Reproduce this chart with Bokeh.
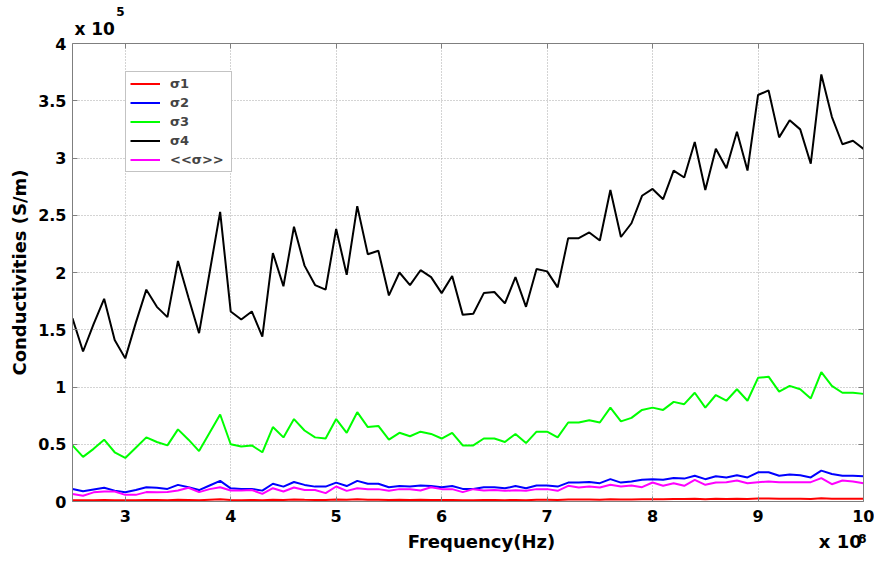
from bokeh.plotting import figure
from bokeh.models import (LinearAxis, FixedTicker, NumeralTickFormatter, Legend,
                          LegendItem, Range1d, CustomJSTickFormatter)
from bokeh.embed import file_html
from bokeh.resources import INLINE

# Frequency in units of 1e8 Hz
freq_e8 = [2.5, 2.6, 2.7, 2.8, 2.9, 3.0, 3.1, 3.2, 3.3, 3.4, 3.5, 3.6, 3.7, 3.8, 3.9,
           4.0, 4.1, 4.2, 4.3, 4.4, 4.5, 4.6, 4.7, 4.8, 4.9,
           5.0, 5.1, 5.2, 5.3, 5.4, 5.5, 5.6, 5.7, 5.8, 5.9,
           6.0, 6.1, 6.2, 6.3, 6.4, 6.5, 6.6, 6.7, 6.8, 6.9,
           7.0, 7.1, 7.2, 7.3, 7.4, 7.5, 7.6, 7.7, 7.8, 7.9,
           8.0, 8.1, 8.2, 8.3, 8.4, 8.5, 8.6, 8.7, 8.8, 8.9,
           9.0, 9.1, 9.2, 9.3, 9.4, 9.5, 9.6, 9.7, 9.8, 9.9, 10.0]

# Conductivities in units of 1e5 S/m
sigma1 = [0.012, 0.010, 0.012, 0.014, 0.011, 0.010, 0.012, 0.014, 0.013, 0.012, 0.015, 0.013, 0.011, 0.015, 0.019,
          0.013, 0.012, 0.013, 0.011, 0.016, 0.014, 0.018, 0.015, 0.014, 0.014,
          0.018, 0.015, 0.019, 0.016, 0.016, 0.013, 0.015, 0.014, 0.015, 0.014,
          0.013, 0.014, 0.012, 0.012, 0.013, 0.013, 0.012, 0.014, 0.012, 0.015,
          0.015, 0.014, 0.017, 0.017, 0.017, 0.016, 0.020, 0.017, 0.018, 0.020,
          0.020, 0.019, 0.021, 0.021, 0.023, 0.020, 0.023, 0.021, 0.024, 0.021,
          0.026, 0.027, 0.024, 0.025, 0.024, 0.022, 0.028, 0.025, 0.023, 0.023, 0.023]

sigma2 = [0.11, 0.09, 0.105, 0.12, 0.095, 0.08, 0.10, 0.125, 0.12, 0.11, 0.145, 0.125, 0.10, 0.14, 0.18,
          0.115, 0.11, 0.11, 0.095, 0.155, 0.13, 0.17, 0.145, 0.13, 0.13,
          0.165, 0.135, 0.18, 0.155, 0.155, 0.125, 0.135, 0.13, 0.14, 0.135,
          0.125, 0.135, 0.11, 0.11, 0.125, 0.125, 0.115, 0.135, 0.115, 0.14,
          0.14, 0.13, 0.165, 0.165, 0.17, 0.16, 0.195, 0.165, 0.175, 0.19,
          0.195, 0.19, 0.205, 0.20, 0.225, 0.195, 0.22, 0.21, 0.23, 0.21,
          0.255, 0.255, 0.225, 0.235, 0.23, 0.21, 0.27, 0.24, 0.225, 0.225, 0.22]

sigma3 = [0.49, 0.39, 0.46, 0.54, 0.43, 0.38, 0.47, 0.56, 0.52, 0.49, 0.63, 0.54, 0.44, 0.60, 0.76,
          0.50, 0.48, 0.49, 0.43, 0.65, 0.56, 0.72, 0.62, 0.56, 0.55,
          0.72, 0.60, 0.78, 0.65, 0.66, 0.54, 0.60, 0.57, 0.61, 0.59,
          0.55, 0.60, 0.49, 0.49, 0.55, 0.55, 0.52, 0.59, 0.51, 0.61,
          0.61, 0.56, 0.69, 0.69, 0.71, 0.69, 0.82, 0.70, 0.73, 0.80,
          0.82, 0.80, 0.87, 0.85, 0.95, 0.82, 0.93, 0.88, 0.98, 0.88,
          1.08, 1.09, 0.96, 1.01, 0.98, 0.90, 1.13, 1.01, 0.95, 0.95, 0.94]

sigma4 = [1.60, 1.31, 1.55, 1.77, 1.41, 1.25, 1.56, 1.85, 1.70, 1.61, 2.10, 1.78, 1.47, 2.00, 2.53,
          1.66, 1.59, 1.66, 1.44, 2.17, 1.88, 2.40, 2.06, 1.89, 1.85,
          2.38, 1.98, 2.58, 2.16, 2.19, 1.80, 2.00, 1.89, 2.02, 1.96,
          1.82, 1.97, 1.63, 1.64, 1.82, 1.83, 1.73, 1.96, 1.70, 2.03,
          2.01, 1.87, 2.30, 2.30, 2.35, 2.28, 2.72, 2.31, 2.43, 2.67,
          2.73, 2.64, 2.89, 2.83, 3.14, 2.72, 3.08, 2.91, 3.23, 2.89,
          3.55, 3.59, 3.18, 3.33, 3.25, 2.95, 3.73, 3.36, 3.12, 3.15, 3.08]

sigma_mean = [0.065, 0.05, 0.08, 0.087, 0.087, 0.058, 0.058, 0.082, 0.08, 0.082, 0.096, 0.12, 0.082, 0.108, 0.125,
              0.096, 0.096, 0.10, 0.067, 0.116, 0.087, 0.122, 0.10, 0.10, 0.073,
              0.131, 0.093, 0.116, 0.108, 0.108, 0.093, 0.108, 0.108, 0.096, 0.125,
              0.108, 0.108, 0.082, 0.108, 0.096, 0.10, 0.093, 0.099, 0.093, 0.108,
              0.108, 0.093, 0.137, 0.122, 0.131, 0.122, 0.146, 0.131, 0.14, 0.125,
              0.166, 0.137, 0.16, 0.137, 0.189, 0.146, 0.166, 0.169, 0.183, 0.16,
              0.169, 0.175, 0.169, 0.169, 0.169, 0.169, 0.204, 0.151, 0.183, 0.175, 0.16]

series_names = ["\u03c31", "\u03c32", "\u03c33", "\u03c34", "<<\u03c3>>"]
series_colors = ["#ff0000", "#0000ff", "#00ff00", "#000000", "#ff00ff"]
series_values = [sigma1, sigma2, sigma3, sigma4, sigma_mean]

x_ticks = [3, 4, 5, 6, 7, 8, 9, 10]
y_ticks = [0, 0.5, 1, 1.5, 2, 2.5, 3, 3.5, 4]

x_title = "Frequency(Hz)"
y_title = "Conductivities (S/m)"
x_exponent = "8"
y_exponent = "5"
exp_base = "x 10"

FONT = "DejaVu Sans"
AX = "#7f7f7f"

p = figure(width=874, height=558, output_backend="svg", toolbar_location=None,
           x_range=Range1d(2.5, 10), y_range=Range1d(0, 4),
           min_border_left=72, min_border_right=11, min_border_top=43, min_border_bottom=57)
p.outline_line_color = None
p.background_fill_color = "white"
p.border_fill_color = "white"


def style_axis(ax, ticks, show_labels):
    ax.ticker = FixedTicker(ticks=ticks)
    ax.axis_line_color = AX
    ax.major_tick_line_color = AX
    ax.major_tick_in = 5
    ax.major_tick_out = 0
    ax.minor_tick_line_color = None
    if show_labels:
        ax.major_label_text_font = FONT
        ax.major_label_text_font_style = "bold"
        ax.major_label_text_font_size = "16px"
        ax.major_label_text_color = "black"
        ax.axis_label_text_font = FONT
        ax.axis_label_text_font_style = "bold"
        ax.axis_label_text_font_size = "18px"
        ax.axis_label_text_color = "black"
    else:
        ax.formatter = CustomJSTickFormatter(code="return ''")
        ax.major_label_text_font_size = "1px"
        ax.major_label_standoff = 0


def text_axis(label_map, size, standoff):
    """An axis with no line/ticks whose tick labels carry free text."""
    locs = list(label_map.keys())
    ax = LinearAxis(ticker=FixedTicker(ticks=locs),
                    major_label_overrides=label_map,
                    axis_line_color=None, major_tick_line_color=None,
                    minor_tick_line_color=None, major_tick_in=0, major_tick_out=0,
                    major_label_standoff=standoff,
                    major_label_text_font=FONT, major_label_text_font_style="bold",
                    major_label_text_font_size=size, major_label_text_color="black")
    return ax


# bottom axis (ticks + numbers)
xb = p.xaxis[0]
style_axis(xb, x_ticks, True)
xb.major_label_standoff = 8
xb.formatter = NumeralTickFormatter(format="0")

# left axis
yl = p.yaxis[0]
style_axis(yl, y_ticks, True)
yl.axis_label = y_title
yl.major_label_standoff = 6
yl.axis_label_standoff = 5
yl.formatter = NumeralTickFormatter(format="0.[0]")

# top / right box axes (ticks only)
xt = LinearAxis()
style_axis(xt, x_ticks, False)
p.add_layout(xt, "above")
yr = LinearAxis()
style_axis(yr, y_ticks, False)
p.add_layout(yr, "right")

# x title and exponent text below the plot
p.add_layout(text_axis({6.378: x_title, 9.78: exp_base}, "18px", 6), "below")
p.add_layout(text_axis({9.99: x_exponent}, "12px", -21), "below")
# y exponent above the plot
p.add_layout(text_axis({2.71: exp_base}, "17px", 5), "above")
p.add_layout(text_axis({2.955: y_exponent}, "12px", 0), "above")

for g in (p.xgrid[0], p.ygrid[0]):
    g.grid_line_color = "#a8a8a8"
    g.grid_line_dash = "1 2"
    g.grid_line_width = 1
p.xgrid[0].ticker = FixedTicker(ticks=x_ticks)
p.ygrid[0].ticker = FixedTicker(ticks=y_ticks)

items = []
for name, color, vals in zip(series_names, series_colors, series_values):
    r = p.line(freq_e8, vals, line_color=color, line_width=2)
    items.append(LegendItem(label=name, renderers=[r]))

legend = Legend(items=items, location=(53, 329), label_text_font=FONT,
                label_text_font_style="bold", label_text_font_size="13px",
                glyph_width=30, glyph_height=15, label_height=15, label_width=57,
                spacing=4, padding=4, margin=0, label_standoff=10,
                border_line_color="#888888", border_line_width=1,
                background_fill_color="white", background_fill_alpha=1)
p.add_layout(legend)

open("out.html", "w").write(file_html(p, INLINE))
